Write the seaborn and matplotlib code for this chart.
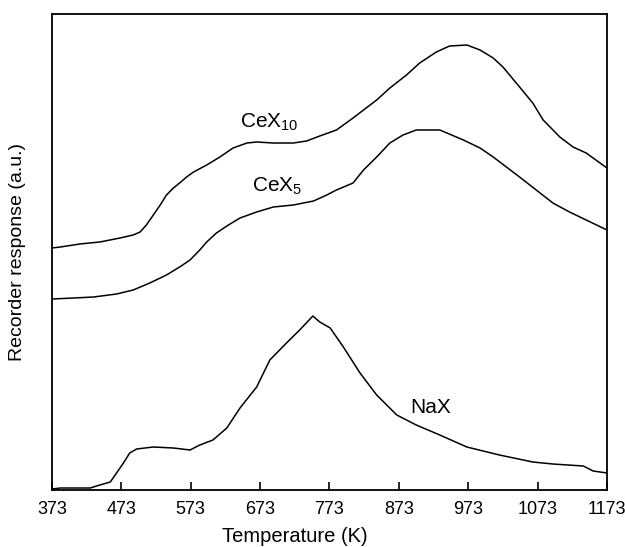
import matplotlib
matplotlib.use("Agg")
import matplotlib.pyplot as plt
import seaborn as sns
import pandas as pd

# ---- data ----
cex10_T = [373, 385, 413, 442, 471, 490, 500, 509, 519, 529, 538, 548, 557, 567, 577,
           596, 615, 634, 654, 668, 692, 721, 740, 759, 783, 807, 822, 841, 860, 884,
           903, 927, 946, 971, 990, 1009, 1023, 1047, 1066, 1081, 1105, 1124, 1143, 1173]
cex10_y = [242, 243, 246, 248, 252, 255, 258, 265, 275, 285, 295, 302, 307, 313, 318,
           325, 333, 342, 347, 348, 347, 347, 349, 354, 360, 372, 380, 390, 402, 415,
           427, 438, 444, 445, 440, 432, 423, 403, 387, 370, 353, 343, 337, 322]

cex5_T = [373, 404, 433, 466, 490, 514, 538, 557, 572, 586, 596, 610, 625, 644, 668,
          692, 721, 750, 769, 783, 807, 822, 841, 860, 879, 898, 932, 966, 990, 1009,
          1028, 1047, 1071, 1095, 1119, 1143, 1173]
cex5_y = [191, 192, 193, 196, 200, 207, 215, 223, 230, 240, 248, 257, 264, 272, 278,
          283, 285, 289, 295, 300, 307, 320, 333, 347, 355, 360, 360, 350, 342, 333,
          323, 313, 300, 287, 278, 270, 260]

nax_T = [373, 385, 428, 442, 457, 466, 476, 485, 495, 519, 548, 572, 586, 605, 625,
         644, 668, 687, 711, 730, 749, 759, 774, 793, 817, 841, 870, 898, 932, 971,
         1018, 1066, 1095, 1139, 1153, 1173]
nax_y = [1, 2, 2, 5, 8, 17, 27, 37, 41, 43, 42, 40, 45, 50, 62,
         82, 103, 130, 147, 160, 174, 168, 162, 143, 117, 95, 75, 65, 55, 43,
         35, 28, 26, 24, 19, 17]

x_ticks = [373, 473, 573, 673, 773, 873, 973, 1073, 1173]
series_labels = [r"CeX$_{10}$", r"CeX$_{5}$", "NaX"]

# ---- style ----
sns.set_style("ticks")
plt.rcParams["font.family"] = ["Liberation Sans", "DejaVu Sans"]
plt.rcParams["mathtext.fontset"] = "custom"
plt.rcParams["mathtext.rm"] = "Liberation Sans"
plt.rcParams["mathtext.it"] = "Liberation Sans"
plt.rcParams["mathtext.default"] = "regular"
plt.rcParams["text.color"] = "black"
plt.rcParams["axes.labelcolor"] = "black"
plt.rcParams["xtick.color"] = "black"
plt.rcParams["ytick.color"] = "black"
plt.rcParams["axes.edgecolor"] = "black"

fig = plt.figure(figsize=(6.25, 5.47), dpi=100)
ax = fig.add_axes([0.0832, 0.1042, 0.8880, 0.8702])

df = pd.concat([
    pd.DataFrame({"T": cex10_T, "r": cex10_y, "s": "CeX10"}),
    pd.DataFrame({"T": cex5_T, "r": cex5_y, "s": "CeX5"}),
    pd.DataFrame({"T": nax_T, "r": nax_y, "s": "NaX"}),
])
for name in ["CeX10", "CeX5", "NaX"]:
    sub = df[df["s"] == name]
    sns.lineplot(data=sub, x="T", y="r", ax=ax, color="black", linewidth=1.1,
                 sort=False, estimator=None)

ax.set_xlim(373, 1173)
ax.set_ylim(0, 476)
ax.set_xticks(x_ticks)
ax.set_xticklabels([str(t) for t in x_ticks], fontsize=13, color="black")
ax.set_yticks([])
ax.tick_params(axis="x", direction="in", length=6, width=1.2, pad=8, colors="black")
for sp in ax.spines.values():
    sp.set_visible(True)
    sp.set_linewidth(1.3)
    sp.set_color("black")

ax.set_xlabel("Temperature (K)", fontsize=14.5, color="black")
ax.xaxis.set_label_coords(0.438, -0.098)
ax.xaxis.label.set_va("center")
ax.set_ylabel("Recorder response (a.u.)", fontsize=14, color="black")
ax.yaxis.set_label_coords(-0.063, 0.5)
ax.yaxis.label.set_va("center")

ax.text(644, 362, series_labels[0], fontsize=15, ha="left", va="baseline", color="black")
ax.text(661, 298, series_labels[1], fontsize=15, ha="left", va="baseline", color="black")
ax.text(889, 77, series_labels[2], fontsize=15, ha="left", va="baseline", color="black")

fig.savefig("out.png", dpi=100)
